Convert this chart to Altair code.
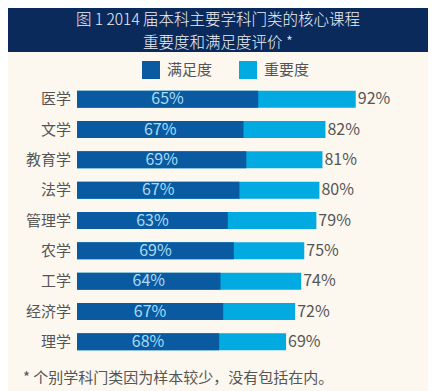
import altair as alt
import pandas as pd

# ---- data ----
subjects = ["医学", "文学", "教育学", "法学", "管理学", "农学", "工学", "经济学", "理学"]
satisfaction = [65, 67, 69, 67, 63, 69, 64, 67, 68]   # 满足度 (%)
importance = [92, 82, 81, 80, 79, 75, 74, 72, 69]     # 重要度 (%)
series_names = ["满足度", "重要度"]
title_lines = ["图 1  2014 届本科主要学科门类的核心课程", "重要度和满足度评价 *"]
footnote = "* 个别学科门类因为样本较少，没有包括在内。"

# ---- styles ----
DARK = "#0a5aa2"
LIGHT = "#02aae2"
NAVY = "#0b2a5c"
BG = "#fdf8ef"
GRAY = "#555555"
FONT = "Noto Sans CJK SC"

# the dark bar is drawn as a share (满足度) of the 重要度 bar
rows = []
for s, sat, imp in zip(subjects, satisfaction, importance):
    rows.append({"subject": s, "series": "重要度", "value": imp,
                 "label": f"{imp}%", "mid": imp / 2})
for s, sat, imp in zip(subjects, satisfaction, importance):
    rows.append({"subject": s, "series": "满足度", "value": sat * imp / 100,
                 "label": f"{sat}%", "mid": sat * imp / 200})
df = pd.DataFrame(rows)

W, H = 420, 383
xscale = alt.Scale(domain=[0, 100], range=[69, 372])
yscale = alt.Scale(domain=subjects, range=[76, 349], paddingInner=0.44, paddingOuter=0.22)
cscale = alt.Scale(domain=series_names, range=[DARK, LIGHT])

base = alt.Chart(df)

bars_light = base.transform_filter(alt.datum.series == "重要度").mark_bar().encode(
    x=alt.X("value:Q", scale=xscale, axis=None),
    x2=alt.datum(0),
    y=alt.Y("subject:N", scale=yscale, axis=None),
    color=alt.Color("series:N", scale=cscale, legend=alt.Legend(
        orient="none", legendX=134, legendY=53, direction="horizontal", title=None,
        symbolType="square", symbolSize=324, symbolStrokeWidth=0, symbolOpacity=1,
        labelFontSize=15, labelColor=GRAY, labelFont=FONT, labelOffset=7,
        columnPadding=26, padding=0)),
)
bars_dark = base.transform_filter(alt.datum.series == "满足度").mark_bar().encode(
    x=alt.X("value:Q", scale=xscale, axis=None),
    x2=alt.datum(0),
    y=alt.Y("subject:N", scale=yscale, axis=None),
    color=alt.Color("series:N", scale=cscale),
)

right_labels = base.transform_filter(alt.datum.series == "重要度").mark_text(
    align="left", baseline="middle", dx=2, fontSize=16, font=FONT, color=GRAY
).encode(
    x=alt.X("value:Q", scale=xscale),
    y=alt.Y("subject:N", scale=yscale),
    text="label:N",
)
inner_labels = base.transform_filter(alt.datum.series == "满足度").mark_text(
    align="center", baseline="middle", fontSize=16, font=FONT, color="#a9dcf4"
).encode(
    x=alt.X("mid:Q", scale=xscale),
    y=alt.Y("subject:N", scale=yscale),
    text="label:N",
)
cat_labels = base.transform_filter(alt.datum.series == "重要度").mark_text(
    align="right", baseline="middle", fontSize=15, font=FONT, color=GRAY
).encode(
    x=alt.value(63),
    y=alt.Y("subject:N", scale=yscale),
    text="subject:N",
)

banner = alt.Chart(pd.DataFrame({"k": [0]})).mark_rect(color=NAVY).encode(
    x=alt.value(-10), x2=alt.value(W + 10), y=alt.value(-10), y2=alt.value(44)
)
title = alt.Chart(pd.DataFrame({"k": [0]})).mark_text(
    align="center", baseline="middle", fontSize=15.5, font=FONT, fontWeight=300,
    color="#eef0f6", lineHeight=22.5
).encode(x=alt.value(210), y=alt.value(12), text=alt.value(title_lines))
foot = alt.Chart(pd.DataFrame({"t": [footnote]})).mark_text(
    align="left", baseline="middle", fontSize=15, font=FONT, color=GRAY
).encode(x=alt.value(15), y=alt.value(370), text="t:N")

chart = alt.layer(
    banner, title, bars_light, bars_dark, inner_labels, right_labels, cat_labels, foot
).properties(
    width=W, height=H, autosize=alt.AutoSizeParams(type="none"), padding=0,
    background=BG,
).configure_view(stroke=None, fill=BG)

chart.save("out.html", embed_options={"renderer": "svg", "actions": False})
